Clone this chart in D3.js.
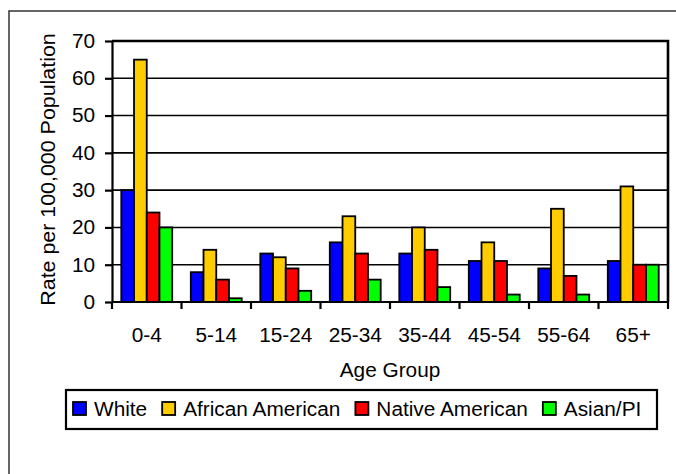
<!DOCTYPE html>
<meta charset="utf-8">
<style>
body { margin: 0; background: #fff; }
svg { font-family: "Liberation Sans", Arial, sans-serif; }
svg text { fill: #000; }
.grid line { stroke: #000; stroke-width: 1.6; }
.axis path, .axis line { stroke: #000; stroke-width: 2.2; }
.bar { stroke: #000; stroke-width: 1.8; }
</style>
<body>
<div id="chart"></div>
<script src="https://d3js.org/d3.v7.min.js"></script>
<script>

// data
var categories = ["0-4", "5-14", "15-24", "25-34", "35-44", "45-54", "55-64", "65+"];
var series = ["White", "African American", "Native American", "Asian/PI"];
var white    = [30,  8, 13, 16, 13, 11,  9, 11];
var african  = [65, 14, 12, 23, 20, 16, 25, 31];
var native   = [24,  6,  9, 13, 14, 11,  7, 10];
var asian    = [20,  1,  3,  6,  4,  2,  2, 10];
var yTicks   = [0, 10, 20, 30, 40, 50, 60, 70];
var colors   = ["#0000FF", "#FFCC00", "#FF0000", "#00FF00"];

var values = [white, african, native, asian];

var width = 676,
    height = 474,
    margin = {top: 41, right: 8, bottom: 172, left: 112},
    fontSize = 20,
    stretch = 1.04;

var innerW = width - margin.left - margin.right,
    innerH = height - margin.top - margin.bottom;

var svg = d3.select("#chart").append("svg")
    .attr("width", width)
    .attr("height", height);

// outer chart frame (runs off the right/bottom of the picture)
svg.append("rect")
    .attr("x", 9).attr("y", 11)
    .attr("width", 700).attr("height", 500)
    .attr("fill", "none")
    .attr("stroke", "#333")
    .attr("stroke-width", 1.5);

var g = svg.append("g")
    .attr("transform", `translate(${margin.left},${margin.top})`);

var x0 = d3.scaleBand().domain(categories).range([0, innerW]);
var x1 = d3.scaleBand().domain(series).range([0, x0.bandwidth()]).paddingOuter(0.73);
var y = d3.scaleLinear().domain([0, 70]).range([innerH, 0]);

// widen text a bit, the original font runs wide
function widen(sel, k) {
  sel.each(function() {
    var L = this.getComputedTextLength();
    this.setAttribute("textLength", L * (k || stretch));
    this.setAttribute("lengthAdjust", "spacingAndGlyphs");
  });
}

// gridlines
g.append("g")
    .attr("class", "grid")
    .selectAll("line")
    .data(yTicks.slice(1))
    .enter().append("line")
    .attr("x1", 0).attr("x2", innerW)
    .attr("y1", d => y(d)).attr("y2", d => y(d));

// top + right border of plot area
g.append("path")
    .attr("d", `M0,0H${innerW}V${innerH}`)
    .attr("fill", "none")
    .attr("stroke", "#000")
    .attr("stroke-width", 2.6);

// bars
var group = g.selectAll(".cat")
    .data(categories)
    .enter().append("g")
    .attr("class", "cat")
    .attr("transform", d => `translate(${x0(d)},0)`);

group.selectAll("rect")
    .data((c, i) => series.map((s, j) => ({s: s, v: values[j][i], c: colors[j]})))
    .enter().append("rect")
    .attr("class", "bar")
    .attr("x", d => x1(d.s))
    .attr("width", x1.bandwidth())
    .attr("y", d => y(d.v))
    .attr("height", d => innerH - y(d.v))
    .attr("fill", d => d.c);

// y axis
var yAxis = g.append("g")
    .attr("class", "axis")
    .call(d3.axisLeft(y).tickValues(yTicks).tickSize(7).tickSizeOuter(0).tickPadding(10));
yAxis.selectAll("text")
    .attr("font-size", fontSize)
    .attr("font-family", "Liberation Sans, Arial, sans-serif")
    .call(widen);

// x axis, ticks at category boundaries
var xAxis = g.append("g")
    .attr("class", "axis")
    .attr("transform", `translate(0,${innerH})`);
xAxis.append("line")
    .attr("x1", 0).attr("x2", innerW);
xAxis.selectAll(".xt")
    .data(categories.concat(["end"]))
    .enter().append("line")
    .attr("class", "xt")
    .attr("x1", (d, i) => i * x0.step()).attr("x2", (d, i) => i * x0.step())
    .attr("y1", 0).attr("y2", 7);
xAxis.selectAll("text")
    .data(categories)
    .enter().append("text")
    .attr("x", d => x0(d) + x0.bandwidth() / 2)
    .attr("y", 40)
    .attr("text-anchor", "middle")
    .attr("font-size", fontSize)
    .text(d => d)
    .call(widen);

// axis titles
svg.append("text")
    .attr("x", margin.left + innerW / 2)
    .attr("y", 377)
    .attr("text-anchor", "middle")
    .attr("font-size", fontSize)
    .text("Age Group")
    .call(widen);

svg.append("text")
    .attr("transform", `translate(55,${margin.top + innerH / 2 - 2}) rotate(-90)`)
    .attr("text-anchor", "middle")
    .attr("font-size", fontSize)
    .text("Rate per 100,000 Population")
    .call(widen, 1.07);

// legend
var legend = svg.append("g").attr("transform", "translate(66,390)");
legend.append("rect")
    .attr("width", 591).attr("height", 39)
    .attr("fill", "#fff")
    .attr("stroke", "#000")
    .attr("stroke-width", 2.2);

var lx = 7;
series.forEach(function(s, i) {
  legend.append("rect")
      .attr("x", lx).attr("y", 12)
      .attr("width", 13).attr("height", 13)
      .attr("fill", colors[i])
      .attr("stroke", "#000")
      .attr("stroke-width", 1.8);
  var t = legend.append("text")
      .attr("x", lx + 21).attr("y", 26)
      .attr("font-size", fontSize)
      .text(s)
      .call(widen);
  lx += 21 + t.node().getComputedTextLength() + 15;
});

</script>
</body>
